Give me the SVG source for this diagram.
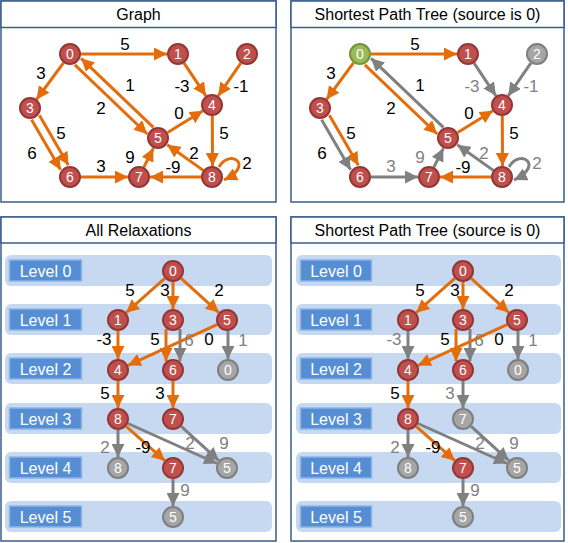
<svg xmlns="http://www.w3.org/2000/svg" width="568" height="543" viewBox="0 0 568 543">
<defs>
<style>
.panel{fill:#fff;stroke:#385D8A;stroke-width:1.5}
.title{font-family:"Liberation Sans",Arial,sans-serif;font-size:16px;fill:#000;text-anchor:middle}
.o{stroke:#E46C0A;stroke-width:3;fill:none;marker-end:url(#ao)}
.g{stroke:#808080;stroke-width:3;fill:none;marker-end:url(#ag)}
.lb{font-family:"Liberation Sans",Arial,sans-serif;font-size:17px;fill:#000;text-anchor:middle}
.lg{font-family:"Liberation Sans",Arial,sans-serif;font-size:17px;fill:#808080;text-anchor:middle}
.nr circle{fill:#C0504D;stroke:#943634;stroke-width:2}
.ng circle{fill:#A6A6A6;stroke:#7F7F7F;stroke-width:2}
.nv circle{fill:#9BBB59;stroke:#77933C;stroke-width:2}
.nt{font-family:"Liberation Sans",Arial,sans-serif;font-size:14px;fill:#fff;text-anchor:middle}
.band{fill:#C6D9F1}
.lvl{fill:#558ED5;stroke:#8DB4E2;stroke-width:1.5}
.lt{font-family:"Liberation Sans",Arial,sans-serif;font-size:16px;fill:#fff;text-anchor:middle}
</style>
<marker id="ao" markerUnits="userSpaceOnUse" markerWidth="13" markerHeight="13" refX="13" refY="6.5" orient="auto"><path d="M0,0 L13,6.5 L0,13 z" fill="#E46C0A"/></marker>
<marker id="ag" markerUnits="userSpaceOnUse" markerWidth="13" markerHeight="13" refX="13" refY="6.5" orient="auto"><path d="M0,0 L13,6.5 L0,13 z" fill="#808080"/></marker>
</defs>

<!-- Panel frames -->
<g id="panels">
<rect class="panel" x="1" y="1" width="275" height="201"/>
<rect class="panel" x="1" y="1" width="275" height="26.5"/>
<text class="title" x="138.5" y="20">Graph</text>
<rect class="panel" x="291" y="1" width="273" height="201"/>
<rect class="panel" x="291" y="1" width="273" height="26.5"/>
<text class="title" x="427.5" y="20">Shortest Path Tree (source is 0)</text>
<rect class="panel" x="1" y="217" width="275" height="324"/>
<rect class="panel" x="1" y="217" width="275" height="26"/>
<text class="title" x="138.5" y="236">All Relaxations</text>
<rect class="panel" x="291" y="217" width="273" height="324"/>
<rect class="panel" x="291" y="217" width="273" height="26"/>
<text class="title" x="427.5" y="236">Shortest Path Tree (source is 0)</text>
</g>

<!-- Level bands -->
<g id="levels-left">
<rect class="band" x="5" y="255" width="267" height="31" rx="6"/>
<rect class="band" x="5" y="304" width="267" height="31" rx="6"/>
<rect class="band" x="5" y="353" width="267" height="31" rx="6"/>
<rect class="band" x="5" y="403" width="267" height="31" rx="6"/>
<rect class="band" x="5" y="452" width="267" height="31" rx="6"/>
<rect class="band" x="5" y="501" width="267" height="31" rx="6"/>
<rect class="lvl" x="9.5" y="260" width="72" height="21"/><text class="lt" x="45.5" y="276.5">Level 0</text>
<rect class="lvl" x="9.5" y="309" width="72" height="21"/><text class="lt" x="45.5" y="325.5">Level 1</text>
<rect class="lvl" x="9.5" y="358" width="72" height="21"/><text class="lt" x="45.5" y="374.5">Level 2</text>
<rect class="lvl" x="9.5" y="408" width="72" height="21"/><text class="lt" x="45.5" y="424.5">Level 3</text>
<rect class="lvl" x="9.5" y="457" width="72" height="21"/><text class="lt" x="45.5" y="473.5">Level 4</text>
<rect class="lvl" x="9.5" y="506" width="72" height="21"/><text class="lt" x="45.5" y="522.5">Level 5</text>
</g>
<g id="levels-right">
<rect class="band" x="296" y="255" width="265" height="31" rx="6"/>
<rect class="band" x="296" y="304" width="265" height="31" rx="6"/>
<rect class="band" x="296" y="353" width="265" height="31" rx="6"/>
<rect class="band" x="296" y="403" width="265" height="31" rx="6"/>
<rect class="band" x="296" y="452" width="265" height="31" rx="6"/>
<rect class="band" x="296" y="501" width="265" height="31" rx="6"/>
<rect class="lvl" x="300.5" y="260" width="71" height="21"/><text class="lt" x="336" y="276.5">Level 0</text>
<rect class="lvl" x="300.5" y="309" width="71" height="21"/><text class="lt" x="336" y="325.5">Level 1</text>
<rect class="lvl" x="300.5" y="358" width="71" height="21"/><text class="lt" x="336" y="374.5">Level 2</text>
<rect class="lvl" x="300.5" y="408" width="71" height="21"/><text class="lt" x="336" y="424.5">Level 3</text>
<rect class="lvl" x="300.5" y="457" width="71" height="21"/><text class="lt" x="336" y="473.5">Level 4</text>
<rect class="lvl" x="300.5" y="506" width="71" height="21"/><text class="lt" x="336" y="522.5">Level 5</text>
</g>

<!-- Connectors -->
<g id="connectors">
<!-- Graph -->
<line class="o" x1="81" y1="54" x2="167" y2="54"/>
<line class="o" x1="63.5" y1="62.8" x2="36.5" y2="99.5"/>
<line class="o" x1="74.9" y1="64.9" x2="147.2" y2="134"/>
<line class="o" x1="153.4" y1="127.4" x2="81.1" y2="58.3"/>
<line class="o" x1="184.1" y1="63.2" x2="205.9" y2="95.8"/>
<line class="o" x1="240.8" y1="63.1" x2="218.2" y2="95.9"/>
<line class="o" x1="39.4" y1="115.3" x2="68.4" y2="165.3"/>
<line class="o" x1="31.6" y1="119.8" x2="60.6" y2="169.8"/>
<line class="o" x1="81" y1="177" x2="128" y2="177"/>
<line class="o" x1="143.9" y1="167.1" x2="153.4" y2="148.2"/>
<line class="o" x1="167.7" y1="132.5" x2="202.9" y2="110.8"/>
<line class="o" x1="212.3" y1="116" x2="212.5" y2="166"/>
<line class="o" x1="203.7" y1="170.6" x2="167.3" y2="144.7"/>
<line class="o" x1="201.7" y1="177" x2="150" y2="177"/>
<path class="o" d="M219,167 C230,148 255,165 224,180"/>
<!-- Shortest Path Tree (top) -->
<line class="o" x1="371" y1="54" x2="457" y2="54"/>
<line class="o" x1="353.5" y1="62.8" x2="326.5" y2="99.5"/>
<line class="o" x1="364.9" y1="64.9" x2="437.2" y2="134"/>
<line class="g" x1="443.4" y1="127.4" x2="371.1" y2="58.3"/>
<line class="g" x1="474.1" y1="63.2" x2="495.9" y2="95.8"/>
<line class="g" x1="530.8" y1="63.1" x2="508.2" y2="95.9"/>
<line class="o" x1="329.4" y1="115.3" x2="358.4" y2="165.3"/>
<line class="g" x1="321.6" y1="119.8" x2="350.6" y2="169.8"/>
<line class="g" x1="371" y1="177" x2="418" y2="177"/>
<line class="g" x1="433.9" y1="167.1" x2="443.4" y2="148.2"/>
<line class="o" x1="457.7" y1="132.5" x2="492.9" y2="110.8"/>
<line class="o" x1="502.3" y1="116" x2="502.5" y2="166"/>
<line class="g" x1="493.7" y1="170.6" x2="457.3" y2="144.7"/>
<line class="o" x1="491.7" y1="177" x2="440" y2="177"/>
<path class="g" d="M509,167 C520,148 545,165 514,180"/>
<!-- All Relaxations -->
<line class="o" x1="164.8" y1="278.3" x2="126.2" y2="312.7"/>
<line class="o" x1="173" y1="282" x2="173" y2="309"/>
<line class="o" x1="181.2" y1="278.4" x2="218.8" y2="312.6"/>
<line class="o" x1="118" y1="331" x2="118" y2="359"/>
<line class="o" x1="166" y1="329" x2="166" y2="361"/>
<line class="g" x1="180" y1="329" x2="180" y2="361"/>
<line class="o" x1="217" y1="324.6" x2="128" y2="365.4"/>
<line class="g" x1="228" y1="331" x2="228" y2="359"/>
<line class="o" x1="118" y1="381" x2="118" y2="408"/>
<line class="o" x1="173" y1="381" x2="173" y2="408"/>
<line class="g" x1="118" y1="430" x2="118" y2="457"/>
<line class="g" x1="128" y1="423.5" x2="217" y2="463.5"/>
<line class="g" x1="181.2" y1="426.4" x2="218.8" y2="460.6"/>
<line class="o" x1="126.2" y1="426.3" x2="164.8" y2="460.7"/>
<line class="g" x1="173" y1="479" x2="173" y2="506"/>
<!-- Shortest Path Tree (bottom) -->
<line class="o" x1="454.8" y1="278.3" x2="416.2" y2="312.7"/>
<line class="o" x1="463" y1="282" x2="463" y2="309"/>
<line class="o" x1="471.2" y1="278.4" x2="508.8" y2="312.6"/>
<line class="g" x1="408" y1="331" x2="408" y2="359"/>
<line class="g" x1="470" y1="329" x2="470" y2="361"/>
<line class="o" x1="456" y1="329" x2="456" y2="361"/>
<line class="o" x1="507" y1="324.6" x2="418" y2="365.4"/>
<line class="g" x1="518" y1="331" x2="518" y2="359"/>
<line class="o" x1="408" y1="381" x2="408" y2="408"/>
<line class="g" x1="463" y1="381" x2="463" y2="408"/>
<line class="g" x1="408" y1="430" x2="408" y2="457"/>
<line class="g" x1="418" y1="423.5" x2="507" y2="463.5"/>
<line class="g" x1="471.2" y1="426.4" x2="508.8" y2="460.6"/>
<line class="o" x1="416.2" y1="426.3" x2="454.8" y2="460.7"/>
<line class="g" x1="463" y1="479" x2="463" y2="506"/>
</g>

<!-- Edge labels -->
<g id="labels">
<text class="lb" x="125" y="50">5</text>
<text class="lb" x="41" y="79">3</text>
<text class="lb" x="130" y="91">1</text>
<text class="lb" x="101" y="114">2</text>
<text class="lb" x="182" y="92">-3</text>
<text class="lb" x="241" y="92">-1</text>
<text class="lb" x="179" y="119">0</text>
<text class="lb" x="61" y="139">5</text>
<text class="lb" x="32" y="159">6</text>
<text class="lb" x="224" y="139">5</text>
<text class="lb" x="130" y="163">9</text>
<text class="lb" x="194" y="159">2</text>
<text class="lb" x="101" y="172">3</text>
<text class="lb" x="173" y="173">-9</text>
<text class="lb" x="247" y="169">2</text>

<text class="lb" x="415" y="50">5</text>
<text class="lb" x="331" y="79">3</text>
<text class="lb" x="420" y="91">1</text>
<text class="lb" x="391" y="114">2</text>
<text class="lg" x="472" y="92">-3</text>
<text class="lg" x="531" y="92">-1</text>
<text class="lb" x="469" y="119">0</text>
<text class="lb" x="351" y="139">5</text>
<text class="lb" x="322" y="159">6</text>
<text class="lb" x="514" y="139">5</text>
<text class="lg" x="420" y="163">9</text>
<text class="lg" x="484" y="159">2</text>
<text class="lg" x="391" y="172">3</text>
<text class="lb" x="463" y="173">-9</text>
<text class="lg" x="537" y="169">2</text>

<text class="lb" x="130" y="296">5</text>
<text class="lb" x="165" y="296">3</text>
<text class="lb" x="219" y="296">2</text>
<text class="lb" x="104" y="345">-3</text>
<text class="lb" x="155" y="345">5</text>
<text class="lg" x="189" y="346">6</text>
<text class="lb" x="209" y="345">0</text>
<text class="lg" x="243" y="346">1</text>
<text class="lb" x="105" y="399">5</text>
<text class="lb" x="160" y="399">3</text>
<text class="lg" x="105" y="453">2</text>
<text class="lb" x="143" y="453">-9</text>
<text class="lg" x="190" y="449">2</text>
<text class="lg" x="224" y="449">9</text>
<text class="lg" x="185" y="496">9</text>

<text class="lb" x="420" y="296">5</text>
<text class="lb" x="455" y="296">3</text>
<text class="lb" x="509" y="296">2</text>
<text class="lg" x="394" y="345">-3</text>
<text class="lb" x="445" y="345">5</text>
<text class="lg" x="479" y="346">6</text>
<text class="lb" x="499" y="345">0</text>
<text class="lg" x="533" y="346">1</text>
<text class="lb" x="395" y="399">5</text>
<text class="lg" x="450" y="399">3</text>
<text class="lg" x="395" y="453">2</text>
<text class="lb" x="433" y="453">-9</text>
<text class="lg" x="480" y="449">2</text>
<text class="lg" x="514" y="449">9</text>
<text class="lg" x="475" y="496">9</text>
</g>

<!-- Nodes: Graph -->
<g id="g-n0" class="nr"><circle cx="70" cy="54" r="10"/><text class="nt" x="70" y="59">0</text></g>
<g id="g-n1" class="nr"><circle cx="178" cy="54" r="10"/><text class="nt" x="178" y="59">1</text></g>
<g id="g-n2" class="nr"><circle cx="247" cy="54" r="10"/><text class="nt" x="247" y="59">2</text></g>
<g id="g-n3" class="nr"><circle cx="30" cy="108" r="10"/><text class="nt" x="30" y="113">3</text></g>
<g id="g-n4" class="nr"><circle cx="212" cy="105" r="10"/><text class="nt" x="212" y="110">4</text></g>
<g id="g-n5" class="nr"><circle cx="158" cy="138" r="10"/><text class="nt" x="158" y="143">5</text></g>
<g id="g-n6" class="nr"><circle cx="70" cy="177" r="10"/><text class="nt" x="70" y="182">6</text></g>
<g id="g-n7" class="nr"><circle cx="139" cy="177" r="10"/><text class="nt" x="139" y="182">7</text></g>
<g id="g-n8" class="nr"><circle cx="212" cy="177" r="10"/><text class="nt" x="212" y="182">8</text></g>

<!-- Nodes: SPT top -->
<g id="t-n0" class="nv"><circle cx="360" cy="54" r="10"/><text class="nt" x="360" y="59">0</text></g>
<g id="t-n1" class="nr"><circle cx="468" cy="54" r="10"/><text class="nt" x="468" y="59">1</text></g>
<g id="t-n2" class="ng"><circle cx="537" cy="54" r="10"/><text class="nt" x="537" y="59">2</text></g>
<g id="t-n3" class="nr"><circle cx="320" cy="108" r="10"/><text class="nt" x="320" y="113">3</text></g>
<g id="t-n4" class="nr"><circle cx="502" cy="105" r="10"/><text class="nt" x="502" y="110">4</text></g>
<g id="t-n5" class="nr"><circle cx="448" cy="138" r="10"/><text class="nt" x="448" y="143">5</text></g>
<g id="t-n6" class="nr"><circle cx="360" cy="177" r="10"/><text class="nt" x="360" y="182">6</text></g>
<g id="t-n7" class="nr"><circle cx="429" cy="177" r="10"/><text class="nt" x="429" y="182">7</text></g>
<g id="t-n8" class="nr"><circle cx="502" cy="177" r="10"/><text class="nt" x="502" y="182">8</text></g>

<!-- Nodes: All Relaxations -->
<g id="r-l0-0" class="nr"><circle cx="173" cy="271" r="10"/><text class="nt" x="173" y="276">0</text></g>
<g id="r-l1-1" class="nr"><circle cx="118" cy="320" r="10"/><text class="nt" x="118" y="325">1</text></g>
<g id="r-l1-3" class="nr"><circle cx="173" cy="320" r="10"/><text class="nt" x="173" y="325">3</text></g>
<g id="r-l1-5" class="nr"><circle cx="227" cy="320" r="10"/><text class="nt" x="227" y="325">5</text></g>
<g id="r-l2-4" class="nr"><circle cx="118" cy="370" r="10"/><text class="nt" x="118" y="375">4</text></g>
<g id="r-l2-6" class="nr"><circle cx="173" cy="370" r="10"/><text class="nt" x="173" y="375">6</text></g>
<g id="r-l2-0" class="ng"><circle cx="228" cy="370" r="10"/><text class="nt" x="228" y="375">0</text></g>
<g id="r-l3-8" class="nr"><circle cx="118" cy="419" r="10"/><text class="nt" x="118" y="424">8</text></g>
<g id="r-l3-7" class="nr"><circle cx="173" cy="419" r="10"/><text class="nt" x="173" y="424">7</text></g>
<g id="r-l4-8" class="ng"><circle cx="118" cy="468" r="10"/><text class="nt" x="118" y="473">8</text></g>
<g id="r-l4-7" class="nr"><circle cx="173" cy="468" r="10"/><text class="nt" x="173" y="473">7</text></g>
<g id="r-l4-5" class="ng"><circle cx="227" cy="468" r="10"/><text class="nt" x="227" y="473">5</text></g>
<g id="r-l5-5" class="ng"><circle cx="173" cy="517" r="10"/><text class="nt" x="173" y="522">5</text></g>

<!-- Nodes: SPT bottom -->
<g id="s-l0-0" class="nr"><circle cx="463" cy="271" r="10"/><text class="nt" x="463" y="276">0</text></g>
<g id="s-l1-1" class="nr"><circle cx="408" cy="320" r="10"/><text class="nt" x="408" y="325">1</text></g>
<g id="s-l1-3" class="nr"><circle cx="463" cy="320" r="10"/><text class="nt" x="463" y="325">3</text></g>
<g id="s-l1-5" class="nr"><circle cx="517" cy="320" r="10"/><text class="nt" x="517" y="325">5</text></g>
<g id="s-l2-4" class="nr"><circle cx="408" cy="370" r="10"/><text class="nt" x="408" y="375">4</text></g>
<g id="s-l2-6" class="nr"><circle cx="463" cy="370" r="10"/><text class="nt" x="463" y="375">6</text></g>
<g id="s-l2-0" class="ng"><circle cx="518" cy="370" r="10"/><text class="nt" x="518" y="375">0</text></g>
<g id="s-l3-8" class="nr"><circle cx="408" cy="419" r="10"/><text class="nt" x="408" y="424">8</text></g>
<g id="s-l3-7" class="ng"><circle cx="463" cy="419" r="10"/><text class="nt" x="463" y="424">7</text></g>
<g id="s-l4-8" class="ng"><circle cx="408" cy="468" r="10"/><text class="nt" x="408" y="473">8</text></g>
<g id="s-l4-7" class="nr"><circle cx="463" cy="468" r="10"/><text class="nt" x="463" y="473">7</text></g>
<g id="s-l4-5" class="ng"><circle cx="517" cy="468" r="10"/><text class="nt" x="517" y="473">5</text></g>
<g id="s-l5-5" class="ng"><circle cx="463" cy="517" r="10"/><text class="nt" x="463" y="522">5</text></g>
</svg>
